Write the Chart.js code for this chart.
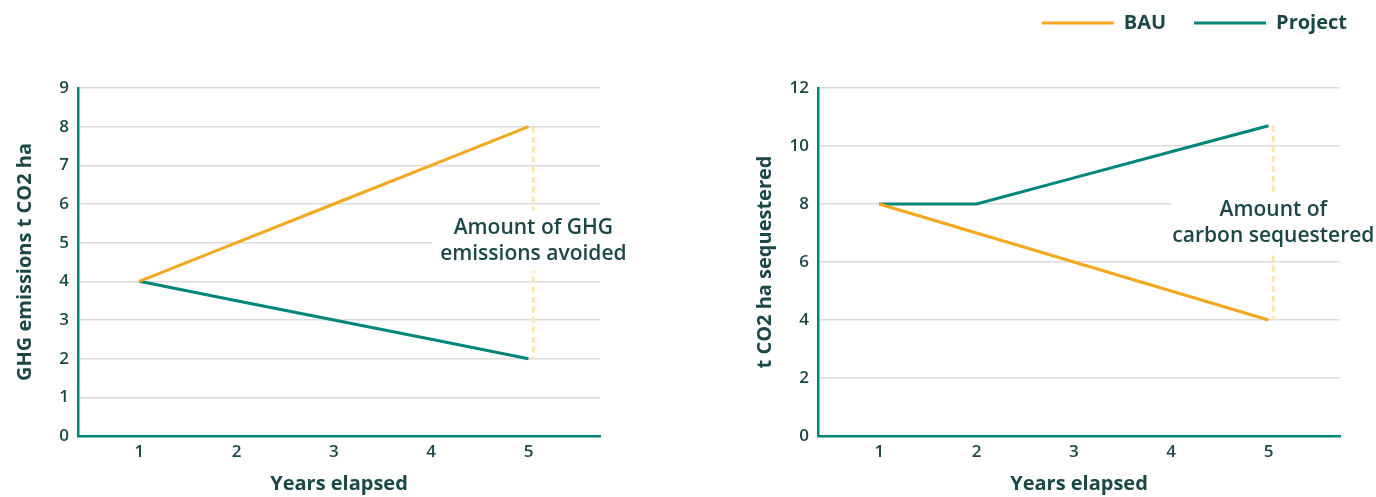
<!DOCTYPE html>
<html><head><meta charset="utf-8">
<script src="https://cdn.jsdelivr.net/npm/chart.js@4/dist/chart.umd.min.js"></script>
<style>
html,body{margin:0;padding:0;background:#fff;}
#wrap{position:relative;width:1376px;height:497px;overflow:hidden;}
#c1{position:absolute;left:0;top:0;}
#c2{position:absolute;left:690px;top:0;}
</style></head><body>
<div id="wrap"><canvas id="c1" width="690" height="497"></canvas><canvas id="c2" width="686" height="497"></canvas></div>
<script>
const years = [1, 2, 3, 4, 5];
const seriesNames = ['BAU', 'Project'];
const emissionsBAU = [4, 5, 6, 7, 8];
const emissionsProject = [4, 3.5, 3, 2.5, 2];
const sequestBAU = [8, 7, 6, 5, 4];
const sequestProject = [8, 8, 8.9, 9.8, 10.7];
const leftYTitle = 'GHG emissions t CO2 ha';
const rightYTitle = 't CO2 ha sequestered';
const xTitle = 'Years elapsed';
const leftNote = ['Amount of GHG', 'emissions avoided'];
const rightNote = ['Amount of', 'carbon sequestered'];

const ORANGE = '#F4A81E', TEAL = '#00857A', TEXT = '#1B4846', GRID = '#DCDCDC', DASH = '#FEE6B2';
const FONT = 'Open Sans';

function pts(vals) { return vals.map((v, i) => ({x: years[i], y: v})); }

const gapPlugin = {
  id: 'gap',
  beforeDatasetsDraw(chart, args, o) {
    if (!o || !o.lines) return;
    const {ctx} = chart; const x = chart.scales.x, y = chart.scales.y;
    const px = x.getPixelForValue(o.x);
    ctx.save();
    ctx.strokeStyle = DASH; ctx.lineWidth = 3; ctx.setLineDash([6, 4]);
    ctx.beginPath(); ctx.moveTo(px, y.getPixelForValue(o.from)); ctx.lineTo(px, y.getPixelForValue(o.to)); ctx.stroke();
    ctx.setLineDash([]);
    const cy = y.getPixelForValue(o.textY);
    ctx.fillStyle = '#fff';
    ctx.fillRect(px + o.box[0], cy + o.box[1], o.box[2], o.box[3]);
    ctx.font = '600 21px "' + FONT + '"';
    ctx.fillStyle = TEXT; ctx.textAlign = 'center'; ctx.textBaseline = 'middle';
    const n = o.lines.length;
    o.lines.forEach((t, i) => ctx.fillText(t, px, cy + (i - (n - 1) / 2) * 26));
    ctx.restore();
  }
};

function makeChart(id, bau, proj, yMax, yStep, yTitle, padding, legend, note, extraScales) {
  const scales = {
    x: {
      type: 'linear', min: 0.37, max: 5.735,
      grid: {display: false, drawTicks: false},
      border: {display: true, color: TEAL, width: 2.5},
      ticks: {stepSize: 1, includeBounds: false, padding: 6, color: TEXT, font: {family: FONT, size: 17, weight: '600'}},
      title: {display: true, text: xTitle, color: TEXT, padding: {top: 0, bottom: 1}, font: {family: FONT, size: 20, weight: '700'}},
      afterFit: s => { s.height = 61; }
    },
    y: {
      min: 0, max: yMax,
      grid: {color: GRID, lineWidth: 1.5, drawTicks: false},
      border: {display: true, color: TEAL, width: 2.5},
      ticks: {stepSize: yStep, padding: 9, color: TEXT, font: {family: FONT, size: 17, weight: '600'}},
      title: {display: true, text: yTitle, color: TEXT, padding: {top: 13, bottom: 0}, font: {family: FONT, size: 20, weight: '700'}},
      afterFit: s => { s.width = 78; }
    }
  };
  Object.assign(scales, extraScales || {});
  return new Chart(document.getElementById(id), {
    type: 'line',
    data: {
      datasets: [
        {label: seriesNames[0], data: pts(bau), borderColor: ORANGE, backgroundColor: ORANGE, borderWidth: 3, pointRadius: 0, tension: 0},
        {label: seriesNames[1], data: pts(proj), borderColor: TEAL, backgroundColor: TEAL, borderWidth: 3, pointRadius: 0, tension: 0}
      ]
    },
    options: {
      responsive: false, animation: false, devicePixelRatio: 1,
      layout: {padding: padding},
      scales: scales,
      plugins: {
        legend: legend,
        tooltip: {enabled: false},
        gap: note
      }
    },
    plugins: [gapPlugin]
  });
}

makeChart('c1', emissionsBAU, emissionsProject, 9, 1, leftYTitle,
  {top: 88, left: 0, right: 90, bottom: 0},
  {display: false},
  {x: 5.05, from: 8, to: 2, textY: 5.05, lines: leftNote, box: [-102, -30, 204, 60]},
  null);

makeChart('c2', sequestBAU, sequestProject, 12, 2, rightYTitle,
  {top: -15, left: 50, right: 1, bottom: 0},
  {
    display: true, position: 'top', align: 'end',
    labels: {
      boxWidth: 72, boxHeight: 3, padding: 28, color: TEXT,
      font: {family: FONT, size: 20, weight: '700'},
      generateLabels: chart => chart.data.datasets.map((d, i) => ({
        text: d.label, fillStyle: d.borderColor, strokeStyle: d.borderColor, lineWidth: 0,
        hidden: false, datasetIndex: i, fontColor: TEXT
      }))
    }
  },
  {x: 5.05, from: 10.7, to: 4, textY: 7.33, lines: rightNote, box: [-102, -29, 210, 57]},
  {
    xTop: {type: 'linear', position: 'top', axis: 'x', display: true, grid: {display: false, drawTicks: false}, ticks: {display: false}, border: {display: false}, afterFit: s => { s.height = 45; }},
    yRight: {type: 'linear', position: 'right', axis: 'y', display: true, grid: {display: false, drawTicks: false}, ticks: {display: false}, border: {display: false}, afterFit: s => { s.width = 35; }}
  });
</script>
</body></html>
